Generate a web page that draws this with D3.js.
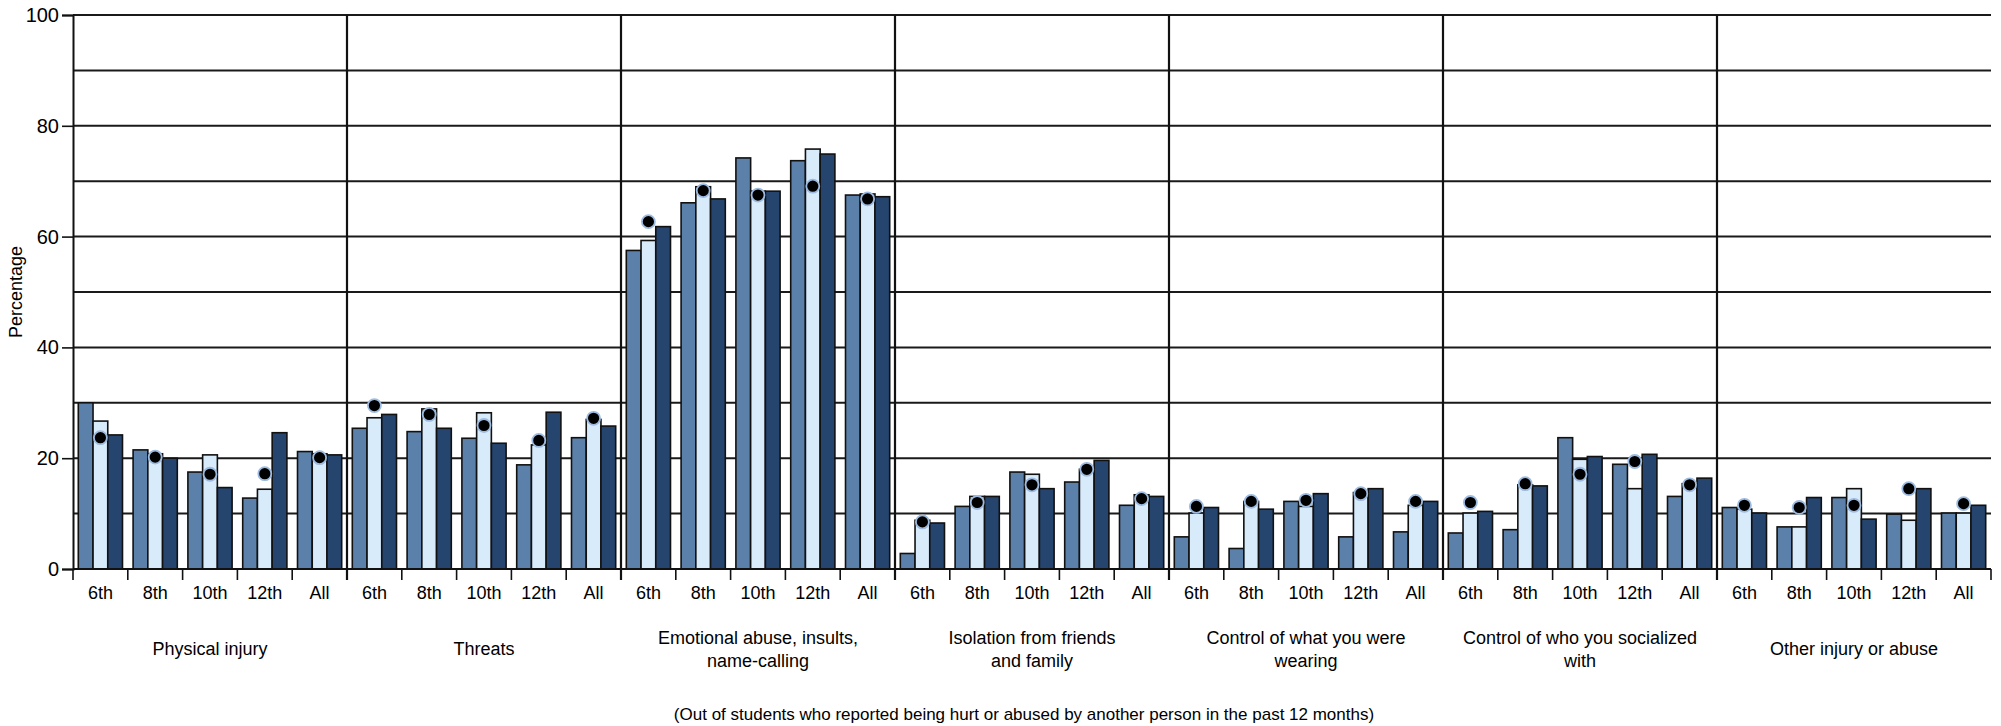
<!doctype html>
<meta charset="utf-8">
<title>Hurt or abused by another person</title>
<script src="https://cdn.jsdelivr.net/npm/d3@7/dist/d3.min.js"></script>
<style>
  body { margin: 0; background: #fff; }
  text { font-family: "Liberation Sans Narrow", "Liberation Sans", sans-serif; font-stretch: condensed; fill: #000; }
</style>
<body>
<script>
var groups = [
  ["Physical injury"],
  ["Threats"],
  ["Emotional abuse, insults,", "name-calling"],
  ["Isolation from friends", "and family"],
  ["Control of what you were", "wearing"],
  ["Control of who you socialized", "with"],
  ["Other injury or abuse"]
];
var grades = ["6th", "8th", "10th", "12th", "All"];

// three bar series and the dot series, one row per group, one value per grade
var seriesA = [
  [30.0, 21.5, 17.5, 12.8, 21.2],
  [25.4, 24.8, 23.6, 18.8, 23.7],
  [57.5, 66.1, 74.2, 73.7, 67.5],
  [2.8, 11.3, 17.5, 15.7, 11.5],
  [5.8, 3.7, 12.2, 5.8, 6.7],
  [6.5, 7.1, 23.7, 18.9, 13.1],
  [11.1, 7.6, 12.9, 9.9, 10.1]
];
var seriesB = [
  [26.7, 20.8, 20.6, 14.4, 20.8],
  [27.3, 28.9, 28.2, 22.4, 27.0],
  [59.3, 69.0, 68.2, 75.8, 67.7],
  [8.8, 13.1, 17.1, 18.0, 13.4],
  [10.1, 12.2, 11.3, 13.8, 11.5],
  [10.1, 15.2, 19.8, 14.5, 15.4],
  [10.8, 7.6, 14.5, 8.8, 10.1]
];
var seriesC = [
  [24.2, 20.0, 14.7, 24.6, 20.6],
  [27.9, 25.4, 22.7, 28.3, 25.8],
  [61.8, 66.8, 68.2, 74.9, 67.2],
  [8.3, 13.1, 14.5, 19.6, 13.1],
  [11.1, 10.8, 13.6, 14.5, 12.2],
  [10.4, 15.0, 20.3, 20.7, 16.4],
  [10.1, 12.9, 9.0, 14.5, 11.5]
];
var dots = [
  [23.7, 20.2, 17.1, 17.2, 20.1],
  [29.5, 27.9, 25.9, 23.2, 27.2],
  [62.7, 68.3, 67.5, 69.1, 66.8],
  [8.5, 12.0, 15.2, 18.0, 12.7],
  [11.3, 12.2, 12.4, 13.6, 12.2],
  [12.0, 15.4, 17.1, 19.4, 15.2],
  [11.5, 11.1, 11.5, 14.5, 11.8]
];
var yTicks = [0, 20, 40, 60, 80, 100];
var yLabel = "Percentage";
var note = "(Out of students who reported being hurt or abused by another person in the past 12 months)";

var width = 2001, height = 726;
var mLeft = 73, mRight = 1991, mTop = 15, mBottom = 569;
var colors = ["#5b80a9", "#d8ebfb", "#25446e"];

var svg = d3.select("body").append("svg")
  .attr("width", width)
  .attr("height", height);

var x0 = d3.scaleBand().domain(d3.range(groups.length)).range([mLeft, mRight]);
var x1 = d3.scaleBand().domain(grades).range([0, x0.bandwidth()]);
var xb = d3.scaleBand().domain([0, 1, 2]).range([0, x1.bandwidth()]).paddingInner(0).paddingOuter(0.36);
var y = d3.scaleLinear().domain([0, 100]).range([mBottom, mTop]);

// gridlines every 10
svg.append("g").selectAll("line")
  .data(y.ticks(10).filter(function(d) { return d > 0; }))
  .enter().append("line")
  .attr("x1", mLeft).attr("x2", mRight)
  .attr("y1", function(d) { return y(d); })
  .attr("y2", function(d) { return y(d); })
  .attr("stroke", "#1a1a1a").attr("stroke-width", 2);

// ticks under the axis at every grade boundary, full lines between groups
var bounds = [];
groups.forEach(function(g, gi) {
  grades.forEach(function(k) { bounds.push({x: x0(gi) + x1(k), sep: k == grades[0] && gi > 0}); });
});
bounds.push({x: mRight, sep: false});
svg.append("g").selectAll("line")
  .data(bounds)
  .enter().append("line")
  .attr("x1", function(d) { return d.x; })
  .attr("x2", function(d) { return d.x; })
  .attr("y1", function(d) { return d.sep ? mTop : mBottom; })
  .attr("y2", mBottom + 11)
  .attr("stroke", "#111").attr("stroke-width", function(d) { return d.sep ? 2.2 : 1.6; });

// bars
var rows = [];
groups.forEach(function(g, gi) {
  grades.forEach(function(k, ki) {
    rows.push({g: gi, k: k, vals: [seriesA[gi][ki], seriesB[gi][ki], seriesC[gi][ki]], dot: dots[gi][ki]});
  });
});

var cell = svg.append("g").selectAll("g")
  .data(rows)
  .enter().append("g")
  .attr("transform", function(d) { return "translate(" + (x0(d.g) + x1(d.k)) + ",0)"; });

cell.selectAll("rect")
  .data(function(d) { return d.vals; })
  .enter().append("rect")
  .attr("x", function(d, i) { return xb(i); })
  .attr("width", xb.bandwidth())
  .attr("y", function(d) { return y(d); })
  .attr("height", function(d) { return y(0) - y(d); })
  .attr("fill", function(d, i) { return colors[i]; })
  .attr("stroke", "#111").attr("stroke-width", 1.6);

cell.append("circle")
  .attr("cx", xb(1) + xb.bandwidth() / 2)
  .attr("cy", function(d) { return y(d.dot); })
  .attr("r", 6.5)
  .attr("fill", "#000")
  .attr("stroke", "#9dbbe0").attr("stroke-width", 1.8);

// axes
var yAxis = svg.append("g")
  .attr("transform", "translate(" + mLeft + ",0)")
  .call(d3.axisLeft(y).tickValues(yTicks).tickSize(11).tickPadding(3));
yAxis.attr("font-family", null).attr("font-size", null);
yAxis.select(".domain").attr("stroke", "#111").attr("stroke-width", 2);
yAxis.selectAll(".tick line").attr("stroke", "#111").attr("stroke-width", 1.6);
yAxis.selectAll("text").attr("font-size", 20);

svg.append("line")
  .attr("x1", mLeft).attr("x2", mRight)
  .attr("y1", mBottom).attr("y2", mBottom)
  .attr("stroke", "#111").attr("stroke-width", 2);

// grade labels
svg.append("g").selectAll("text")
  .data(rows)
  .enter().append("text")
  .attr("x", function(d) { return x0(d.g) + x1(d.k) + x1.bandwidth() / 2; })
  .attr("y", 599)
  .attr("text-anchor", "middle")
  .attr("font-size", 18)
  .text(function(d) { return d.k; });

// group labels
var gl = svg.append("g").selectAll("text")
  .data(groups)
  .enter().append("text")
  .attr("x", function(d, i) { return x0(i) + x0.bandwidth() / 2; })
  .attr("y", function(d) { return d.length > 1 ? 644 : 655; })
  .attr("text-anchor", "middle")
  .attr("font-size", 18);
gl.selectAll("tspan")
  .data(function(d) { return d; })
  .enter().append("tspan")
  .attr("x", function() { return d3.select(this.parentNode).attr("x"); })
  .attr("dy", function(d, i) { return i ? 23 : 0; })
  .text(function(d) { return d; });

svg.append("text")
  .attr("transform", "translate(22," + ((mTop + mBottom) / 2) + ") rotate(-90)")
  .attr("text-anchor", "middle")
  .attr("font-size", 18)
  .text(yLabel);

svg.append("text")
  .attr("x", 1024).attr("y", 720)
  .attr("text-anchor", "middle")
  .attr("font-size", 17)
  .text(note);
</script>
</body>
